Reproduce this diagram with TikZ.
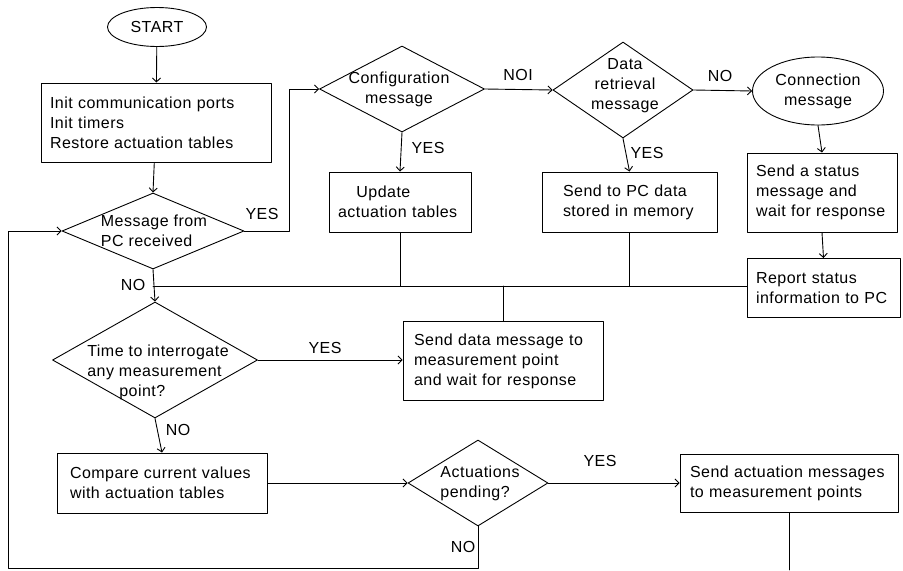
\documentclass[tikz,border=0pt]{standalone}
\usepackage{fontspec}
\setmainfont{Liberation Sans}[LetterSpace=3]
\usetikzlibrary{shapes.geometric,arrows.meta}

\begin{document}
\begin{tikzpicture}[x=1pt, y=-1pt, line width=0.9pt, line cap=round, line join=round,
  font=\fontsize{16}{20}\selectfont,
  procbox/.style={draw, rectangle, align=left, inner ysep=0pt, inner xsep=9pt},
  decision/.style={draw, diamond, inner sep=0pt},
  terminal/.style={draw, ellipse, inner sep=0pt},
  flow/.style={-{Straight Barb[length=4pt,width=8pt]}},
  answer/.style={anchor=center, inner sep=0pt}]

  % ════ 开始 / 初始化 ════
  \node[terminal, minimum width=99pt, minimum height=39pt] (start) at (157,27) {};
  \node (start-t) at (157,27) {START};
  \node[procbox, text width=212pt, minimum height=79pt] (init) at (156,122.5)
    {Init communication ports\\Init timers\\Restore actuation tables};

  % ════ 判断框 ════
  \node[decision, minimum width=182pt, minimum height=76pt] (msgpc) at (153,231) {};
  \node[align=left] (msgpc-t) at (154,231) {Message from\\PC received};
  \node[decision, minimum width=165pt, minimum height=86pt] (config) at (402,89) {};
  \node[align=center] (config-t) at (399,89) {Configuration\\message};
  \node[decision, minimum width=140pt, minimum height=96pt] (data) at (623,90) {};
  \node[align=center] (data-t) at (625,86) {Data\\retrieval\\message};
  \node[decision, minimum width=205pt, minimum height=116pt] (time) at (155,360) {};
  \node[align=left] (time-t) at (158,372) {Time to interrogate\\any measurement\\\hspace*{2em}point?};
  \node[decision, minimum width=140pt, minimum height=86pt] (actpend) at (478,483) {};
  \node[align=left] (actpend-t) at (480,483) {Actuations\\pending?};

  % ════ 连接消息 ════
  \node[terminal, minimum width=131pt, minimum height=68pt] (conn) at (818,91) {};
  \node[align=center] (conn-t) at (818,91) {Connection\\message};

  % ════ 处理框 ════
  \node[procbox, text width=132pt, minimum height=79pt] (status) at (822,192.5)
    {Send a status\\message and\\wait for response};
  \node[procbox, text width=135pt, minimum height=59pt] (report) at (823.5,288)
    {Report status\\information to PC};
  \node[procbox, text width=124pt, minimum height=60pt] (update) at (400,202)
    {\hspace*{1.15em}Update\\actuation tables};
  \node[procbox, inner xsep=21pt, text width=133pt, minimum height=60pt] (sendpc) at (629.5,202)
    {Send to PC data\\stored in memory};
  \node[procbox, inner xsep=11pt, text width=178pt, minimum height=79pt] (senddata) at (503,361)
    {Send data message to\\measurement point\\and wait for response};
  \node[procbox, inner xsep=13pt, text width=184pt, minimum height=60pt] (compare) at (162,483)
    {Compare current values\\with actuation tables};
  \node[procbox, inner xsep=10pt, text width=198pt, minimum height=58pt] (sendact) at (789,483)
    {Send actuation messages\\to measurement points};

  % ════ 辅助点 ════
  \coordinate (bus) at (153,286);
  \coordinate (loop) at (8,568);
  \coordinate (actend) at (786,570);

  % ════ 连线 ════
  \draw[flow] (start) -- (init);
  \draw[flow] (init) -- (msgpc.north);
  \draw[flow] (msgpc.east) -- ++(45,0) |- (config.west);
  \draw[flow] (config.east) -- (data.west);
  \draw[flow] (data.east) -- (conn.west);
  \draw[flow] (conn.south) -- (status.north);
  \draw[flow] (status.south) -- (report.north);
  \draw[flow] (config.south) -- (update.north);
  \draw[flow] (data.south) -- (sendpc.north);
  \draw[flow] (msgpc.south) -- (time.north);
  \draw (bus) -- (bus -| report.west);
  \draw (update.south) -- (update.south |- bus);
  \draw (sendpc.south) -- (sendpc.south |- bus);
  \draw (senddata.north) -- (senddata.north |- bus);
  \draw[flow] (time.east) -- (time.east -| senddata.west);
  \draw[flow] (time.south) -- (compare.north);
  \draw[flow] (compare.east) -- (actpend.west);
  \draw[flow] (actpend.east) -- (sendact.west);
  \draw[flow] (actpend.south) |- (loop) |- (msgpc.west);
  \draw (sendact.south) -- (sendact.south |- actend);

  % ════ 分支标签 ════
  \node[answer] (yes1) at (262,214) {YES};
  \node[answer] (no1) at (133,285) {NO};
  \node[answer] (noi) at (518,75) {NOI};
  \node[answer] (no2) at (720,76) {NO};
  \node[answer] (yes2) at (428,148) {YES};
  \node[answer] (yes3) at (647,153) {YES};
  \node[answer] (yes4) at (325,348) {YES};
  \node[answer] (no3) at (178,430) {NO};
  \node[answer] (yes5) at (600,461) {YES};
  \node[answer] (no4) at (463,547) {NO};

  \path[use as bounding box] (0,0) rectangle (903,570);
\end{tikzpicture}
\end{document}
